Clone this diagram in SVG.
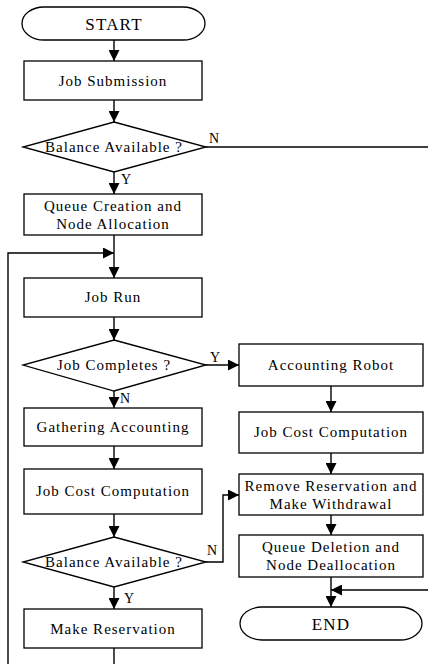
<svg xmlns="http://www.w3.org/2000/svg" width="428" height="664" viewBox="0 0 428 664">
<defs>
<marker id="ah" viewBox="0 0 11 11" refX="11" refY="5.5" markerWidth="11" markerHeight="11" markerUnits="userSpaceOnUse" orient="auto">
<path d="M0,0 L11,5.5 L0,11 Z" fill="#000"/>
</marker>
<style>
.s{fill:#fff;stroke:#000;stroke-width:1.3}
.t{font-family:"Liberation Serif","Times New Roman",serif;font-size:15px;letter-spacing:1px;text-anchor:middle;fill:#000}
.big{font-size:17px;letter-spacing:1.2px}
.l{font-family:"Liberation Serif","Times New Roman",serif;font-size:14px;fill:#000}
.c{fill:none;stroke:#000;stroke-width:1.4}
</style>
</defs>
<rect width="428" height="664" fill="#fff"/>
<g id="connectors">
<path class="c" d="M114,40 V61" marker-end="url(#ah)"/>
<path class="c" d="M114,100 V122" marker-end="url(#ah)"/>
<path class="c" d="M206,147 H428"/>
<path class="c" d="M114,172 V194" marker-end="url(#ah)"/>
<path class="c" d="M114,235 V278" marker-end="url(#ah)"/>
<path class="c" d="M8,664 V253 H114" marker-end="url(#ah)"/>
<path class="c" d="M114,317 V340" marker-end="url(#ah)"/>
<path class="c" d="M206,365 H239" marker-end="url(#ah)"/>
<path class="c" d="M114,391 V408" marker-end="url(#ah)"/>
<path class="c" d="M114,446 V469" marker-end="url(#ah)"/>
<path class="c" d="M114,514 V537" marker-end="url(#ah)"/>
<path class="c" d="M114,587 V609" marker-end="url(#ah)"/>
<path class="c" d="M114,648 V664"/>
<path class="c" d="M206,562 H223 V495 H239" marker-end="url(#ah)"/>
<path class="c" d="M331,386 V412" marker-end="url(#ah)"/>
<path class="c" d="M331,453 V474" marker-end="url(#ah)"/>
<path class="c" d="M331,515 V535" marker-end="url(#ah)"/>
<path class="c" d="M331,577 V607" marker-end="url(#ah)"/>
<path class="c" d="M428,590 H331" marker-end="url(#ah)"/>
<text class="l" x="209" y="143">N</text>
<text class="l" x="121" y="184">Y</text>
<text class="l" x="210" y="362">Y</text>
<text class="l" x="120" y="403">N</text>
<text class="l" x="207" y="555">N</text>
<text class="l" x="124" y="603">Y</text>
</g>
<g id="start">
<rect class="s" x="22" y="7" width="183" height="33" rx="22" ry="16.5"/>
<text class="t big" x="114" y="30">START</text>
</g>
<g id="job-submission">
<rect class="s" x="24" y="61" width="178" height="39"/>
<text class="t" x="113" y="86">Job Submission</text>
</g>
<g id="balance1">
<polygon class="s" points="114,122 206,147 114,172 23,147"/>
<text class="t" x="114" y="152">Balance Available ?</text>
</g>
<g id="queue-creation">
<rect class="s" x="24" y="194" width="178" height="41"/>
<text class="t" x="113" y="211">Queue Creation and</text>
<text class="t" x="113" y="229">Node Allocation</text>
</g>
<g id="job-run">
<rect class="s" x="24" y="278" width="178" height="39"/>
<text class="t" x="113" y="302">Job Run</text>
</g>
<g id="job-completes">
<polygon class="s" points="114,340 206,365 114,391 23,365"/>
<text class="t" x="114" y="370">Job Completes ?</text>
</g>
<g id="gathering">
<rect class="s" x="24" y="408" width="178" height="38"/>
<text class="t" x="113" y="432">Gathering Accounting</text>
</g>
<g id="job-cost-left">
<rect class="s" x="24" y="469" width="178" height="45"/>
<text class="t" x="113" y="496">Job Cost Computation</text>
</g>
<g id="balance2">
<polygon class="s" points="114,537 206,562 114,587 23,562"/>
<text class="t" x="114" y="567">Balance Available ?</text>
</g>
<g id="make-reservation">
<rect class="s" x="24" y="609" width="178" height="39"/>
<text class="t" x="113" y="634">Make Reservation</text>
</g>
<g id="accounting-robot">
<rect class="s" x="239" y="344" width="184" height="42"/>
<text class="t" x="331" y="370">Accounting Robot</text>
</g>
<g id="job-cost-right">
<rect class="s" x="239" y="412" width="184" height="41"/>
<text class="t" x="331" y="437">Job Cost Computation</text>
</g>
<g id="remove-reservation">
<rect class="s" x="239" y="474" width="184" height="41"/>
<text class="t" x="331" y="491">Remove Reservation and</text>
<text class="t" x="331" y="509">Make Withdrawal</text>
</g>
<g id="queue-deletion">
<rect class="s" x="239" y="535" width="184" height="42"/>
<text class="t" x="331" y="552">Queue Deletion and</text>
<text class="t" x="331" y="570">Node Deallocation</text>
</g>
<g id="end">
<rect class="s" x="240" y="607" width="182" height="33" rx="22" ry="16.5"/>
<text class="t big" x="331" y="630">END</text>
</g>
</svg>
